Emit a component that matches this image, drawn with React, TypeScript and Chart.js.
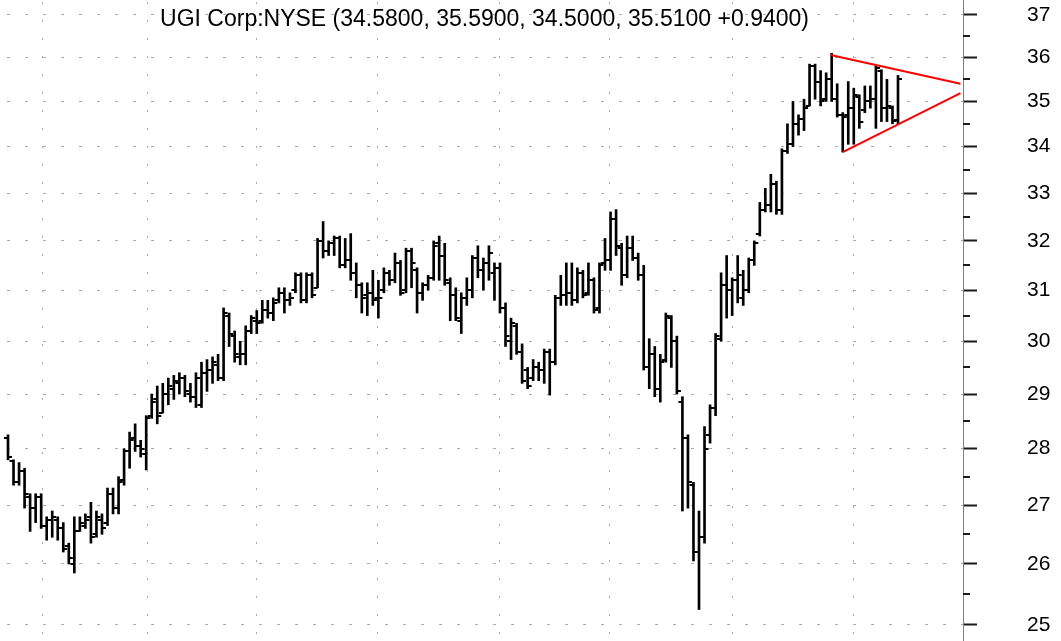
import React, { useEffect, useRef } from 'react';
import { Chart, registerables } from 'chart.js';

Chart.register(...registerables);

const TITLE = 'UGI Corp:NYSE (34.5800, 35.5900, 34.5000, 35.5100 +0.9400)';
const FONT = '"Liberation Sans", Arial, Helvetica, sans-serif';

const opens = [
  28.2, 27.78, 27.4, 27.6, 27.15, 26.95, 27.15, 26.65, 26.75, 26.75,
  26.6, 26.3, 26.0, 26.55, 26.65, 26.8, 26.5, 26.75, 26.7, 27.2,
  26.95, 27.45, 27.95, 28.2, 28.05, 27.9, 28.6, 28.9, 28.65, 29.0,
  29.1, 29.2, 29.3, 29.0, 28.95, 28.8, 29.4, 29.45, 29.55, 29.3,
  30.5, 30.1, 29.7, 29.75, 30.2, 30.4, 30.4, 30.6, 30.55, 30.8,
  30.95, 30.8, 31.0, 31.3, 30.8, 31.3, 31.05, 32.0, 31.8, 31.95,
  32.05, 31.5, 31.6, 31.35, 31.1, 30.9, 30.95, 30.85, 31.0, 31.35,
  31.2, 31.55, 31.0, 31.8, 31.4, 30.95, 31.1, 31.25, 31.95, 31.7,
  31.15, 30.9, 30.4, 30.85, 31.0, 31.65, 31.4, 31.55, 31.35, 31.45,
  30.65, 30.0, 30.3, 29.8, 29.45, 29.3, 29.5, 29.45, 29.8, 29.6,
  30.85, 30.9, 30.95, 30.8, 31.35, 30.95, 31.2, 30.65, 31.55, 31.6,
  32.45, 31.85, 31.3, 31.85, 31.65, 31.3, 29.5, 29.75, 29.1, 29.65,
  30.45, 30.0, 28.85, 28.2, 27.35, 26.2, 26.45, 28.25, 28.75, 30.05,
  31.1, 31.0, 31.2, 30.85, 31.0, 31.6, 32.15, 32.65, 32.75, 33.2,
  32.65, 33.9, 34.05, 34.5, 34.6, 34.9, 35.8, 35.45, 35.05, 35.5,
  35.05, 34.7, 34.7, 34.85, 35.1, 34.8, 35.0, 35.05, 35.7, 34.85,
  34.85, 34.58,
];

const highs = [
  28.25, 27.8, 27.75, 27.65, 27.2, 27.2, 27.2, 26.8, 26.9, 26.8,
  26.7, 26.35, 26.8, 26.8, 26.85, 27.05, 26.9, 26.85, 27.3, 27.3,
  27.5, 28.0, 28.3, 28.45, 28.15, 28.6, 29.0, 29.15, 29.2, 29.3,
  29.35, 29.4, 29.35, 29.2, 29.4, 29.6, 29.65, 29.7, 29.75, 30.65,
  30.55, 30.2, 30.0, 30.3, 30.5, 30.6, 30.8, 30.8, 30.85, 31.05,
  31.05, 30.95, 31.35, 31.35, 31.35, 31.35, 32.05, 32.4, 32.0, 32.1,
  32.1, 32.05, 32.15, 31.55, 31.15, 31.15, 31.4, 31.2, 31.45, 31.4,
  31.75, 31.6, 31.85, 31.85, 31.45, 31.15, 31.3, 32.0, 32.1, 31.95,
  31.25, 31.05, 30.95, 31.25, 31.7, 31.9, 31.65, 31.9, 31.55, 31.55,
  30.75, 30.45, 30.35, 29.95, 29.5, 29.65, 29.6, 29.85, 29.85, 30.9,
  31.3, 31.55, 31.55, 31.45, 31.4, 31.55, 31.25, 31.55, 32.05, 32.6,
  32.65, 31.95, 32.1, 32.1, 31.75, 31.5, 30.05, 29.9, 29.75, 30.55,
  30.5, 30.1, 28.95, 28.25, 27.4, 26.9, 28.4, 28.8, 30.15, 31.35,
  31.7, 31.25, 31.7, 31.4, 31.65, 32.0, 32.8, 33.1, 33.4, 33.25,
  33.95, 34.5, 35.0, 34.7, 35.05, 35.85, 35.85, 35.7, 35.65, 36.1,
  35.4, 34.75, 35.45, 35.3, 35.15, 35.35, 35.35, 35.8, 35.72, 35.5,
  34.9, 35.59,
];

const lows = [
  27.8, 27.35, 27.35, 26.95, 26.55, 26.7, 26.6, 26.4, 26.45, 26.4,
  26.2, 26.0, 25.85, 26.55, 26.6, 26.35, 26.45, 26.5, 26.65, 26.85,
  26.85, 27.35, 27.65, 27.95, 27.85, 27.62, 28.55, 28.45, 28.65, 28.8,
  28.9, 29.0, 28.95, 28.85, 28.75, 28.75, 29.05, 29.2, 29.25, 29.25,
  29.9, 29.6, 29.55, 29.55, 30.15, 30.15, 30.35, 30.45, 30.4, 30.75,
  30.55, 30.7, 30.95, 30.75, 30.75, 30.85, 31.05, 31.65, 31.7, 31.7,
  31.45, 31.45, 31.2, 30.85, 30.55, 30.5, 30.7, 30.45, 30.95, 31.1,
  31.15, 30.9, 30.95, 31.05, 30.55, 30.8, 31.0, 31.2, 31.2, 31.1,
  30.4, 30.4, 30.15, 30.7, 30.85, 31.25, 31.0, 31.2, 30.8, 30.55,
  29.9, 29.65, 29.75, 29.2, 29.1, 29.25, 29.25, 29.2, 28.98, 29.55,
  30.7, 30.7, 30.7, 30.75, 30.85, 30.9, 30.55, 30.55, 31.4, 31.4,
  31.7, 31.1, 31.25, 31.6, 31.2, 29.45, 29.1, 28.95, 28.85, 29.6,
  29.5, 29.0, 26.9, 26.95, 26.05, 25.25, 26.35, 28.1, 28.6, 30.0,
  30.45, 30.5, 30.75, 30.7, 30.95, 31.5, 32.1, 32.6, 32.6, 32.55,
  32.55, 33.85, 34.0, 34.25, 34.35, 34.9, 35.05, 34.9, 35.0, 35.0,
  34.65, 33.88, 34.05, 34.05, 34.4, 34.75, 34.85, 34.4, 34.55, 34.55,
  34.5, 34.5,
];

const closes = [
  27.85, 27.4, 27.6, 27.2, 26.95, 27.15, 26.65, 26.75, 26.8, 26.6,
  26.25, 26.1, 26.55, 26.7, 26.75, 26.45, 26.8, 26.6, 27.2, 26.95,
  27.4, 27.95, 28.15, 28.05, 28.0, 28.55, 28.85, 28.6, 29.0, 29.15,
  29.25, 29.3, 29.05, 28.95, 29.3, 29.4, 29.45, 29.6, 29.3, 30.55,
  30.15, 29.75, 29.75, 30.2, 30.45, 30.35, 30.6, 30.55, 30.75, 30.95,
  30.8, 30.85, 31.3, 30.8, 31.3, 30.9, 32.0, 31.8, 31.95, 32.05,
  31.5, 31.6, 31.35, 31.1, 30.85, 30.95, 30.8, 30.85, 31.35, 31.2,
  31.55, 30.95, 31.8, 31.55, 30.95, 31.1, 31.25, 31.9, 31.7, 31.2,
  30.9, 30.45, 30.85, 31.0, 31.65, 31.4, 31.55, 31.75, 31.45, 30.65,
  30.1, 30.35, 29.8, 29.25, 29.15, 29.5, 29.45, 29.8, 29.6, 30.85,
  30.9, 30.95, 30.8, 31.35, 30.9, 31.2, 30.6, 31.5, 31.6, 32.45,
  31.9, 31.3, 31.85, 31.65, 31.3, 29.5, 29.75, 29.1, 29.6, 30.5,
  30.0, 29.05, 28.2, 27.4, 26.2, 26.45, 28.0, 28.75, 30.1, 31.1,
  31.0, 31.2, 31.3, 31.0, 31.6, 31.95, 32.65, 32.75, 33.2, 32.65,
  33.9, 34.05, 34.5, 34.6, 34.85, 35.8, 35.45, 35.0, 35.5, 35.05,
  34.7, 34.65, 34.85, 35.15, 34.55, 35.0, 35.05, 35.75, 34.85, 34.9,
  34.57, 35.51,
];

const priceTicks = [25, 26, 27, 28, 29, 30, 31, 32, 33, 34, 35, 36, 37];
const minorTicks = [25.5, 26.5, 27.5, 28.5, 29.5, 30.5, 31.5, 32.5, 33.5, 34.5, 35.5, 36.5];
const monthBreaks = [6.33, 25.15, 45.0, 66.9, 89.0, 108.9, 131.0, 152.9];
const upperTrend = [{ x: 148.8, y: 36.06 }, { x: 172.3, y: 35.4 }];
const lowerTrend = [{ x: 151.0, y: 33.88 }, { x: 172.3, y: 35.19 }];

const ohlcTicksPlugin = {
  id: 'ohlcTicks',
  afterDatasetsDraw(chart: any) {
    const { ctx } = chart;
    const xs = chart.scales.x;
    const ys = chart.scales.y;
    ctx.save();
    ctx.strokeStyle = '#000';
    ctx.lineWidth = 2;
    ctx.beginPath();
    for (let i = 0; i < opens.length; i++) {
      const px = xs.getPixelForValue(i);
      const po = Math.round(ys.getPixelForValue(opens[i]));
      const pc = Math.round(ys.getPixelForValue(closes[i]));
      ctx.moveTo(px - 4, po);
      ctx.lineTo(px, po);
      ctx.moveTo(px, pc);
      ctx.lineTo(px + 4, pc);
    }
    ctx.stroke();
    ctx.restore();
  },
};

const overlayPlugin = {
  id: 'overlay',
  afterDraw(chart: any) {
    const { ctx, chartArea } = chart;
    const ys = chart.scales.y;
    ctx.save();
    ctx.strokeStyle = '#1a1a1a';
    ctx.lineWidth = 2;
    ctx.beginPath();
    for (const v of minorTicks) {
      const py = Math.round(ys.getPixelForValue(v));
      ctx.moveTo(chartArea.right, py);
      ctx.lineTo(chartArea.right + 7, py);
    }
    ctx.stroke();
    ctx.fillStyle = '#000';
    ctx.font = `23px ${FONT}`;
    ctx.textAlign = 'center';
    ctx.textBaseline = 'middle';
    ctx.fillText(TITLE, (chartArea.left + chartArea.right) / 2 + 3, 20);
    ctx.restore();
  },
};

export default function App() {
  const ref = useRef<HTMLCanvasElement | null>(null);

  useEffect(() => {
    if (!ref.current) return;
    const chart = new Chart(ref.current, {
      type: 'bar',
      data: {
        datasets: [
          {
            type: 'line',
            data: upperTrend,
            borderColor: '#ff0000',
            borderWidth: 2,
            pointRadius: 0,
            fill: false,
            order: 0,
          } as any,
          {
            type: 'line',
            data: lowerTrend,
            borderColor: '#ff0000',
            borderWidth: 2,
            pointRadius: 0,
            fill: false,
            order: 0,
          } as any,
          {
            type: 'bar',
            data: highs.map((h, i) => ({ x: i, y: [lows[i], h] })),
            backgroundColor: '#000',
            borderWidth: 0,
            barThickness: 2,
            order: 1,
          } as any,
        ],
      },
      options: {
        responsive: false,
        maintainAspectRatio: false,
        devicePixelRatio: 1,
        animation: false,
        layout: { padding: 0 },
        plugins: {
          legend: { display: false },
          tooltip: { enabled: false },
          title: { display: false },
        },
        scales: {
          x: {
            type: 'linear',
            min: -1.447,
            max: 172.757,
            offset: false,
            bounds: 'data',
            afterBuildTicks: (s: any) => {
              s.ticks = monthBreaks.map((v) => ({ value: v }));
            },
            grid: { offset: false, color: '#a9a9a9', lineWidth: 1, drawTicks: false },
            border: { display: false, dash: [2, 16], dashOffset: -2 },
            ticks: { display: false },
          },
          y: {
            type: 'logarithmic',
            position: 'right',
            min: 24.744,
            max: 37.358,
            bounds: 'data',
            afterBuildTicks: (s: any) => {
              s.ticks = priceTicks.map((v) => ({ value: v }));
            },
            afterFit: (s: any) => {
              s.width = 98;
              s.paddingTop = 0;
              s.paddingBottom = 0;
            },
            grid: {
              color: '#a9a9a9',
              lineWidth: 1,
              drawTicks: true,
              tickLength: 14,
              tickColor: '#1a1a1a',
              tickWidth: 2,
              tickBorderDash: [],
            },
            border: { display: true, color: '#808080', width: 1, dash: [3, 15], dashOffset: -7 },
            ticks: {
              display: true,
              padding: 50,
              color: '#000',
              font: { family: FONT, size: 21 },
              callback: (v: any) => String(Math.round(Number(v))),
            },
          },
        },
      } as any,
      plugins: [ohlcTicksPlugin, overlayPlugin],
    });
    return () => chart.destroy();
  }, []);

  return (
    <div style={{ position: 'fixed', left: 0, top: 0, width: 1061, height: 641, background: '#fff' }}>
      <canvas ref={ref} width={1061} height={641} style={{ display: 'block', width: 1061, height: 641 }} />
    </div>
  );
}
